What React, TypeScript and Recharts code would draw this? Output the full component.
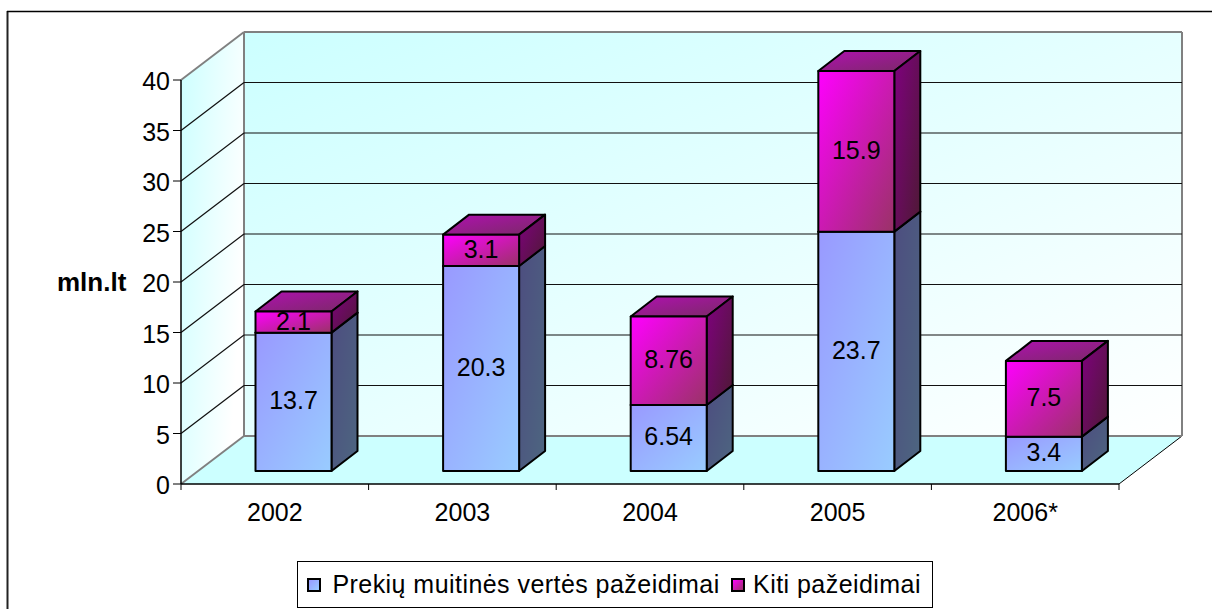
import React from 'react';
import { BarChart, Bar, XAxis, YAxis, CartesianGrid, Legend, LabelList } from 'recharts';

const years = ['2002', '2003', '2004', '2005', '2006*'];
const customsValue = [13.7, 20.3, 6.54, 23.7, 3.4];
const otherViolations = [2.1, 3.1, 8.76, 15.9, 7.5];
const yTicks = [0, 5, 10, 15, 20, 25, 30, 35, 40];

const data = years.map((year, i) => ({
  year,
  customs: customsValue[i],
  other: otherViolations[i],
}));

// plot box (front plane of the fake 3D cube)
const WIDTH = 1212;
const HEIGHT = 609;
const LEFT = 181;
const RIGHT = 1119;
const TOP = 80;
const BOTTOM = 484;

// depth of the cube and of one bar
const WALL_DX = 63;
const WALL_DY = 48;
const BAR_DX = 26;
const BAR_DY = 20;
const SHIFT_X = (WALL_DX - BAR_DX) / 2;
const SHIFT_Y = 13;

const FONT = '"Liberation Sans", Arial, sans-serif';

function Gradient({ id, from, to }: { id: string; from: string; to: string }) {
  return (
    <linearGradient id={id} x1="0" y1="0" x2="1" y2="1">
      <stop offset="0%" stopColor={from} />
      <stop offset="100%" stopColor={to} />
    </linearGradient>
  );
}

// walls, floor and the chart's outer frame, in their own svg behind the chart
// (recharts paints its grid under any custom child, so they can't share a layer)
function Walls() {
  const bx = LEFT + WALL_DX;
  const by = BOTTOM - WALL_DY;
  const tx = RIGHT + WALL_DX;
  const ty = TOP - WALL_DY;
  const boundaries = years.map((_, i) => LEFT + ((RIGHT - LEFT) * (i + 1)) / years.length);
  return (
    <svg width={WIDTH} height={HEIGHT} style={{ position: 'absolute', left: 0, top: 0 }}>
      <defs>
        <linearGradient id="sideWall" x1="0" y1="0" x2="1" y2="0.5">
          <stop offset="0%" stopColor="#ccffff" />
          <stop offset="100%" stopColor="#ffffff" />
        </linearGradient>
        <Gradient id="backWall" from="#ccffff" to="#ffffff" />
      </defs>
      <line x1={7.5} y1={11} x2={7.5} y2={HEIGHT} stroke="#222" strokeWidth={2} />
      <line x1={7} y1={11.5} x2={WIDTH} y2={11.5} stroke="#000" strokeWidth={1.5} />
      <polygon points={`${LEFT},${TOP} ${bx},${ty} ${bx},${by} ${LEFT},${BOTTOM}`} fill="url(#sideWall)" />
      <rect x={bx} y={ty} width={tx - bx} height={by - ty} fill="url(#backWall)" />
      <polygon points={`${LEFT},${BOTTOM} ${bx},${by} ${tx},${by} ${RIGHT},${BOTTOM}`} fill="#ccffff" />
      <line x1={bx} y1={ty} x2={bx} y2={by} stroke="#808080" strokeWidth={2} />
      <line x1={tx} y1={ty} x2={tx} y2={by} stroke="#808080" strokeWidth={2} />
      <line x1={tx} y1={by} x2={RIGHT} y2={BOTTOM} stroke="#000" strokeWidth={1} />
      <line x1={LEFT} y1={BOTTOM} x2={LEFT} y2={BOTTOM + 6} stroke="#000" strokeWidth={1} />
      {boundaries.map((x) => (
        <line key={x} x1={x} y1={BOTTOM} x2={x} y2={BOTTOM + 6} stroke="#000" strokeWidth={1} />
      ))}
    </svg>
  );
}

// one grid value: a diagonal on the side wall plus a line on the back wall
function gridLine(props: any) {
  const { x1, x2, y1, key } = props;
  const isEdge = Math.abs(y1 - TOP) < 1 || Math.abs(y1 - BOTTOM) < 1;
  const stroke = isEdge ? '#808080' : '#111';
  const sw = isEdge ? 2 : 1.2;
  return (
    <g key={key}>
      <line x1={x1} y1={y1} x2={x1 + WALL_DX} y2={y1 - WALL_DY} stroke={stroke} strokeWidth={sw} />
      <line x1={x1 + WALL_DX} y1={y1 - WALL_DY} x2={x2 + WALL_DX} y2={y1 - WALL_DY} stroke={stroke} strokeWidth={sw} />
    </g>
  );
}

function box3d(props: any, front: string, side: string, top: string) {
  const { x, y, width, height } = props;
  const fx = x + SHIFT_X;
  const fy = y - SHIFT_Y;
  const edge = { stroke: '#000', strokeWidth: 2, strokeLinejoin: 'round' as const };
  return (
    <g>
      <polygon
        points={`${fx},${fy} ${fx + BAR_DX},${fy - BAR_DY} ${fx + width + BAR_DX},${fy - BAR_DY} ${fx + width},${fy}`}
        fill={top}
        {...edge}
      />
      <polygon
        points={`${fx + width},${fy} ${fx + width + BAR_DX},${fy - BAR_DY} ${fx + width + BAR_DX},${fy + height - BAR_DY} ${fx + width},${fy + height}`}
        fill={side}
        {...edge}
      />
      <rect x={fx} y={fy} width={width} height={height} fill={front} {...edge} />
    </g>
  );
}

const BlueBox = (props: any) => box3d(props, 'url(#blueFront)', 'url(#blueSide)', 'url(#blueSide)');
const PinkBox = (props: any) => box3d(props, 'url(#pinkFront)', 'url(#pinkSide)', 'url(#pinkTop)');

function BarLabel(props: any) {
  const { x, y, width, height, value } = props;
  return (
    <text
      x={x + SHIFT_X + width / 2}
      y={y - SHIFT_Y + height / 2 - 1.5}
      textAnchor="middle"
      dominantBaseline="central"
      fontFamily={FONT}
      fontSize={25}
      fill="#000"
    >
      {value}
    </text>
  );
}

function LegendBox({ payload }: any) {
  const swatch: Record<string, string> = {
    customs: 'linear-gradient(135deg, #9999ff, #99ccff)',
    other: 'linear-gradient(135deg, #ff00ff, #993366)',
  };
  return (
    <div
      style={{
        boxSizing: 'border-box',
        width: '100%',
        height: '100%',
        border: '1px solid #000',
        background: '#fff',
        display: 'flex',
        alignItems: 'center',
        paddingLeft: 9,
        fontFamily: FONT,
        fontSize: 25,
        letterSpacing: 0.45,
        color: '#000',
        whiteSpace: 'nowrap',
      }}
    >
      {(payload || []).map((item: any, i: number) => (
        <React.Fragment key={item.dataKey}>
          <span
            style={{
              boxSizing: 'border-box',
              display: 'inline-block',
              width: 15,
              height: 14,
              border: '2px solid #000',
              background: swatch[item.dataKey],
              marginRight: i === 0 ? 11 : 8,
            }}
          />
          <span style={{ marginRight: 11 }}>{item.value}</span>
        </React.Fragment>
      ))}
    </div>
  );
}

export default function App() {
  return (
    <div style={{ position: 'absolute', left: 0, top: 0, width: WIDTH, height: HEIGHT, background: '#fff' }}>
      <Walls />
      <div style={{ position: 'absolute', left: 0, top: 0 }}>
        <BarChart
          width={WIDTH}
          height={HEIGHT}
          data={data}
          barSize={76}
          margin={{ top: TOP, right: WIDTH - RIGHT, left: 0, bottom: 0 }}
        >
          <defs>
            <Gradient id="blueFront" from="#9999ff" to="#99ccff" />
            <Gradient id="blueSide" from="#4d4d80" to="#4d6680" />
            <Gradient id="pinkFront" from="#ff00ff" to="#993366" />
            <Gradient id="pinkSide" from="#800080" to="#4d1a33" />
            <Gradient id="pinkTop" from="#b010b0" to="#7a2a66" />
          </defs>
          <CartesianGrid vertical={false} horizontal={gridLine} />
          <XAxis
            dataKey="year"
            height={HEIGHT - BOTTOM}
            tickLine={false}
            tickMargin={13}
            axisLine={{ stroke: '#000', strokeWidth: 1.5 }}
            tick={{ fill: '#000', fontFamily: FONT, fontSize: 25 }}
          />
          <YAxis
            width={LEFT}
            domain={[0, 40]}
            ticks={yTicks}
            interval={0}
            tickSize={8}
            tickMargin={3}
            axisLine={{ stroke: '#000', strokeWidth: 1.5 }}
            tickLine={{ stroke: '#000' }}
            tick={{ fill: '#000', fontFamily: FONT, fontSize: 25, dy: 1.5 }}
            label={{
              value: 'mln.lt',
              position: 'insideLeft',
              offset: 57,
              style: { fontFamily: FONT, fontSize: 26, fontWeight: 'bold', fill: '#000', textAnchor: 'start' },
            }}
          />
          <Legend
            layout="horizontal"
            align="center"
            verticalAlign="middle"
            itemSorter={null}
            wrapperStyle={{ position: 'absolute', left: 297, top: 561, width: 636, height: 47 }}
            content={<LegendBox />}
          />
          <Bar
            dataKey="customs"
            name="Prekių muitinės vertės pažeidimai"
            stackId="a"
            fill="#99b3ff"
            shape={BlueBox}
            isAnimationActive={false}
          >
            <LabelList dataKey="customs" content={BarLabel} />
          </Bar>
          <Bar
            dataKey="other"
            name="Kiti pažeidimai"
            stackId="a"
            fill="#ff00ff"
            shape={PinkBox}
            isAnimationActive={false}
          >
            <LabelList dataKey="other" content={BarLabel} />
          </Bar>
        </BarChart>
      </div>
    </div>
  );
}
